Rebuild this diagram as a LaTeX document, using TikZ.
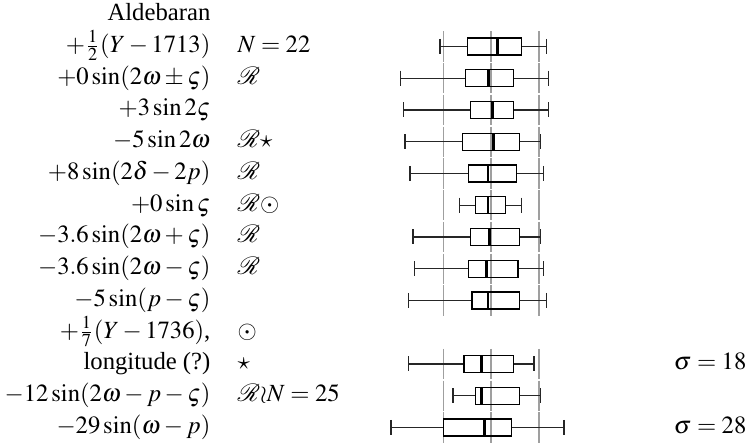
\documentclass[tikz,border=0pt]{standalone}
\usepackage{amsmath}
\usepackage{mathrsfs}
\IfFileExists{mathptmx.sty}{\usepackage{mathptmx}}{}
\usepackage[no-math]{fontspec}
\setmainfont{Liberation Serif}
\usetikzlibrary{positioning}

\begin{document}
\begin{tikzpicture}[x=0.405pt, y=-0.405pt, line width=0.5pt,
    lbl/.style={anchor=base east, inner sep=0pt},
    note/.style={anchor=base west, inner sep=0pt},
    guide/.style={gray!75, line width=0.65pt},
    whisk/.style={black!85},
    med/.style={line width=1.1pt}]
                        \useasboundingbox (0,0) rectangle (750,444);
                        % term labels
                        \node [lbl] (name) at (211, 20.7) {Aldebaran};
                        \node [lbl] (t1) at (211, 52.45) {$+\tfrac{1}{2}(Y-1713)$};
                        \node [lbl] (t2) at (211, 84.2) {$+0\sin(2\omega\pm\varsigma)$};
                        \node [lbl] (t3) at (211, 115.95) {$+3\sin2\varsigma$};
                        \node [lbl] (t4) at (211, 147.7) {$-5\sin2\omega$};
                        \node [lbl] (t5) at (211, 179.45) {$+8\sin(2\delta-2p)$};
                        \node [lbl] (t6) at (211, 211.2) {$+0\sin\varsigma$};
                        \node [lbl] (t7) at (211, 242.95) {$-3.6\sin(2\omega+\varsigma)$};
                        \node [lbl] (t8) at (211, 274.7) {$-3.6\sin(2\omega-\varsigma)$};
                        \node [lbl] (t9) at (211, 306.45) {$-5\sin(p-\varsigma)$};
                        \node [lbl] (t10) at (211, 338.2) {$+\tfrac{1}{7}(Y-1736)$,};
                        \node [lbl] (t11) at (211, 369.95) {longitude (?)};
                        \node [lbl] (t12) at (211, 401.7) {$-12\sin(2\omega-p-\varsigma)$};
                        \node [lbl] (t13) at (211, 433.45) {$-29\sin(\omega-p)$};
                        % remarks
                        \node [note] (n1) at (237, 52.45) {$N=22$};
                        \node [note] (n2) at (237, 84.2) {$\mathscr{R}$};
                        \node [note] (n4) at (237, 147.7) {$\mathscr{R}{\star}$};
                        \node [note] (n5) at (237, 179.45) {$\mathscr{R}$};
                        \node [note] (n6) at (237, 211.2) {$\mathscr{R}{\boldsymbol{\odot}}$};
                        \node [note] (n7) at (237, 242.95) {$\mathscr{R}$};
                        \node [note] (n8) at (237, 274.7) {$\mathscr{R}$};
                        \node [note] (n10) at (237, 338.2) {$\boldsymbol{\odot}$};
                        \node [note] (n11) at (237, 369.95) {$\star$};
                        \node [note] (n12) at (237, 401.7) {$\mathscr{R}{\wr}N=25$};
                        \node [lbl] (s11) at (747, 369.95) {$\sigma=18$};
                        \node [lbl] (s13) at (747, 433.45) {$\sigma=28$};
                        % box plots: row/low/q1/median/q3/high
                        \foreach \k/\lo/\qa/\me/\qb/\hi in {1/440/467.3/497.3/521.3/546.7,
                            2/400.7/465.7/488.3/513.3/548.3, 3/403.3/470.3/492.7/513.3/548.3,
                            4/405/462.3/493.3/519.3/540.3, 5/410/468.7/488/516.3/543.3,
                            6/459.3/475.3/488/505.3/521.3, 7/413/470.3/489.7/519.7/540.3,
                            8/414.7/468.7/486.3/518/543.3, 9/408.3/472/488/519.7/546.7,
                            11/408.3/464/481.7/513.3/534, 12/453/475.3/481.7/519.7/540.3,
                            13/391/443.3/484.7/511.7/564} {
                          \pgfmathsetmacro\yc{14.7+31.75*\k}
                          \foreach \gx in {443.3, 491, 539}
                            \draw [guide] (\gx, \yc-15.2) -- (\gx, \yc+15.2);
                          \draw [whisk] (\lo, \yc) -- (\qa, \yc) (\qb, \yc) -- (\hi, \yc)
                            (\lo, \yc-7.5) -- (\lo, \yc+7.5) (\hi, \yc-7.5) -- (\hi, \yc+7.5);
                          \draw (\qa, \yc-8.5) rectangle (\qb, \yc+8.5);
                          \draw [med] (\me, \yc-8.5) -- (\me, \yc+8.5);
                        }
                    \end{tikzpicture}
\end{document}
